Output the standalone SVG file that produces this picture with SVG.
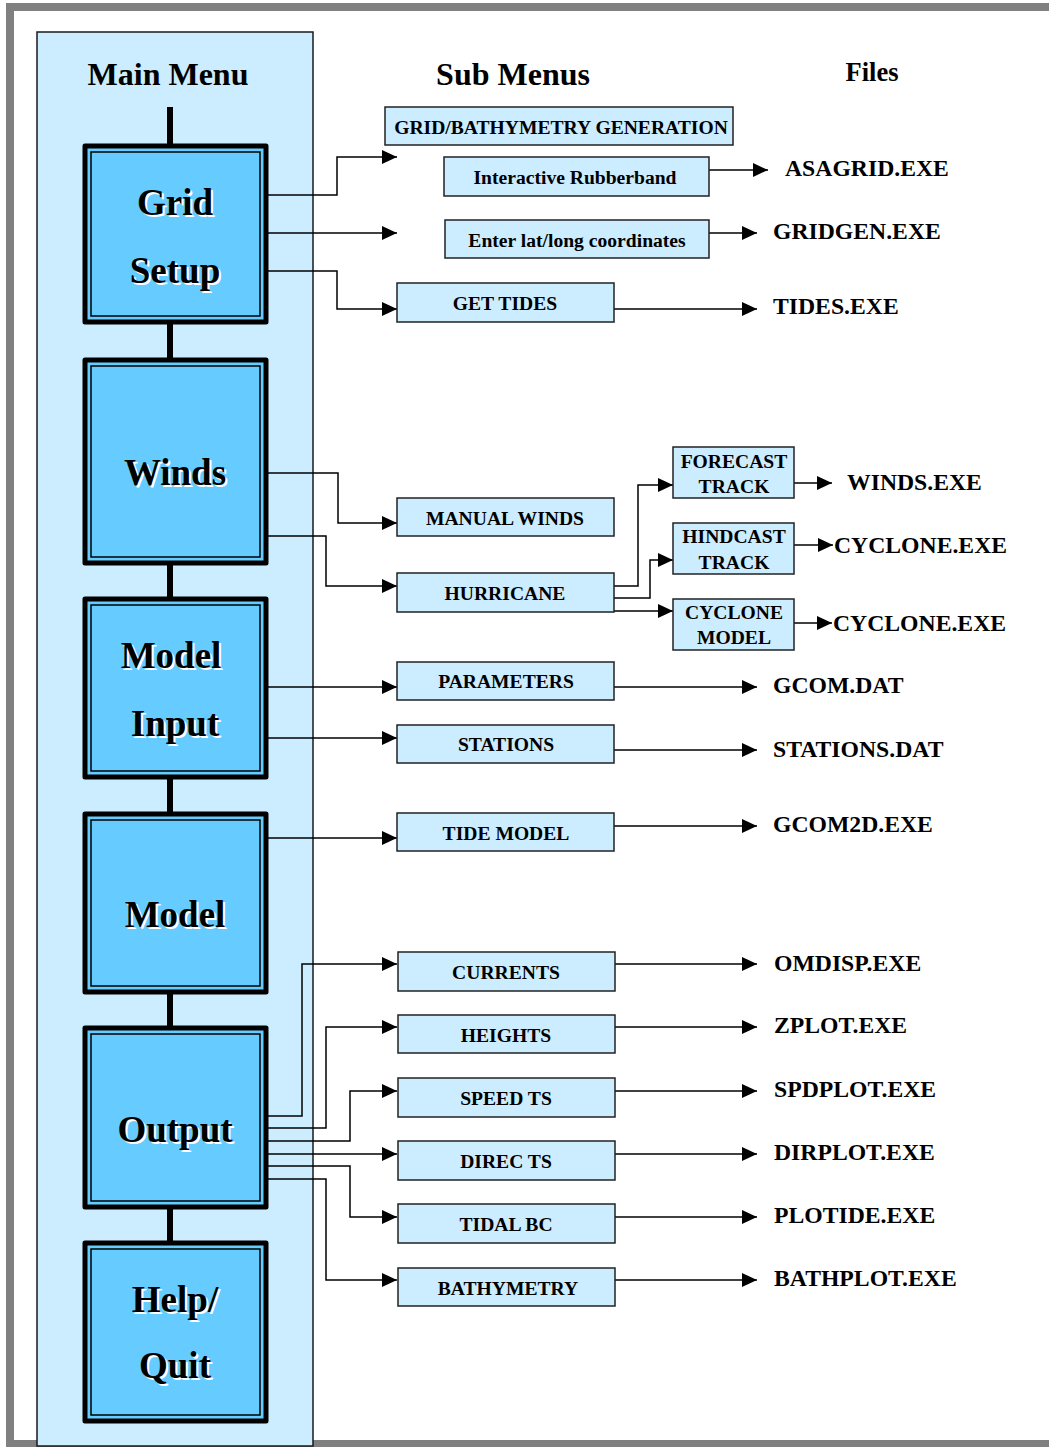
<svg xmlns="http://www.w3.org/2000/svg" width="1049" height="1447" viewBox="0 0 1049 1447">
<defs>
<style>
.frame{fill:#fff;stroke:#808080;stroke-width:8}
.panel{fill:#CCECFF;stroke:#1a1a1a;stroke-width:1.5}
.mo{fill:#66CCFF;stroke:#000;stroke-width:5;stroke-linejoin:round}
.mi{fill:none;stroke:#000;stroke-width:1.5}
.sub{fill:#CCECFF;stroke:#222;stroke-width:1.5}
.spine{stroke:#000;stroke-width:6;fill:none}
.ca{fill:none;stroke:#000;stroke-width:1.5;marker-end:url(#ah)}
text{font-family:"Liberation Serif","Times New Roman",serif;font-weight:bold;fill:#000}
.t{font-size:32px;text-anchor:middle}
.big{font-size:37px;text-anchor:middle}
.sh{fill:#fff}
.st{font-size:19.6px;text-anchor:middle}
.ft{font-size:23.7px}
</style>
<marker id="ah" markerUnits="userSpaceOnUse" markerWidth="16" markerHeight="14" refX="15" refY="7" orient="auto">
<path d="M0,0 L15,7 L0,14 z" fill="#000"/>
</marker>
</defs>
<rect class="frame" x="10" y="7" width="1050" height="1437"/>
<g id="panel">
<rect class="panel" x="37" y="32" width="276" height="1414"/>
<text class="t" x="168" y="85">Main Menu</text>
</g>
<text class="t" x="513" y="85">Sub Menus</text>
<text class="t" x="872" y="81" style="font-size:26.5px">Files</text>
<line class="spine" x1="170" y1="107" x2="170" y2="1241"/>
<g id="connectors">
<path class="ca" d="M267,195 H337 V157 H397"/>
<path class="ca" d="M267,233 H397"/>
<path class="ca" d="M267,271 H337 V309 H397"/>
<path class="ca" d="M709,170 H768"/>
<path class="ca" d="M709,233 H757"/>
<path class="ca" d="M614,309 H757"/>
<path class="ca" d="M267,473 H338 V523 H397"/>
<path class="ca" d="M267,536 H326 V586 H397"/>
<path class="ca" d="M614,586 H638 V485 H673"/>
<path class="ca" d="M614,598 H650 V560 H673"/>
<path class="ca" d="M614,611 H673"/>
<path class="ca" d="M794,483 H832"/>
<path class="ca" d="M794,545 H833"/>
<path class="ca" d="M794,623 H832"/>
<path class="ca" d="M267,687 H397"/>
<path class="ca" d="M267,738 H397"/>
<path class="ca" d="M614,687 H757"/>
<path class="ca" d="M614,750 H757"/>
<path class="ca" d="M267,838 H397"/>
<path class="ca" d="M614,826 H757"/>
<path class="ca" d="M267,1116 H302 V964 H397"/>
<path class="ca" d="M267,1128 H326 V1027 H397"/>
<path class="ca" d="M267,1141 H350 V1091 H397"/>
<path class="ca" d="M267,1154 H397"/>
<path class="ca" d="M267,1166 H350 V1217 H397"/>
<path class="ca" d="M267,1179 H326 V1280 H397"/>
<path class="ca" d="M614,964 H757"/>
<path class="ca" d="M614,1027 H757"/>
<path class="ca" d="M614,1091 H757"/>
<path class="ca" d="M614,1154 H757"/>
<path class="ca" d="M614,1217 H757"/>
<path class="ca" d="M614,1280 H757"/>
</g>
<g id="grid-setup">
<rect class="mo" x="85" y="146" width="181" height="176"/>
<rect class="mi" x="91" y="152" width="169" height="164"/>
<text class="big sh" x="177" y="217">Grid</text><text class="big" x="175" y="215">Grid</text>
<text class="big sh" x="177" y="285">Setup</text><text class="big" x="175" y="283">Setup</text>
</g>
<g id="winds">
<rect class="mo" x="85" y="360" width="181" height="203"/>
<rect class="mi" x="91" y="366" width="169" height="191"/>
<text class="big sh" x="177" y="487">Winds</text><text class="big" x="175" y="485">Winds</text>
</g>
<g id="model-input">
<rect class="mo" x="85" y="599" width="181" height="178"/>
<rect class="mi" x="91" y="605" width="169" height="166"/>
<text class="big sh" x="173" y="670">Model</text><text class="big" x="171" y="668">Model</text>
<text class="big sh" x="177" y="738">Input</text><text class="big" x="175" y="736">Input</text>
</g>
<g id="model">
<rect class="mo" x="85" y="814" width="181" height="178"/>
<rect class="mi" x="91" y="820" width="169" height="166"/>
<text class="big sh" x="177" y="929">Model</text><text class="big" x="175" y="927">Model</text>
</g>
<g id="output">
<rect class="mo" x="85" y="1028" width="181" height="179"/>
<rect class="mi" x="91" y="1034" width="169" height="167"/>
<text class="big sh" x="177" y="1144">Output</text><text class="big" x="175" y="1142">Output</text>
</g>
<g id="help-quit">
<rect class="mo" x="85" y="1243" width="181" height="178"/>
<rect class="mi" x="91" y="1249" width="169" height="166"/>
<text class="big sh" x="177" y="1314">Help/</text><text class="big" x="175" y="1312">Help/</text>
<text class="big sh" x="177" y="1380">Quit</text><text class="big" x="175" y="1378">Quit</text>
</g>
<g id="grid-bathymetry-generation"><rect class="sub" x="385" y="107" width="348" height="38"/><text class="st" x="561" y="134">GRID/BATHYMETRY GENERATION</text></g>
<g id="interactive-rubberband"><rect class="sub" x="444" y="157" width="265" height="39"/><text class="st" x="575" y="184">Interactive Rubberband</text></g>
<g id="enter-latlong"><rect class="sub" x="445" y="220" width="264" height="38"/><text class="st" x="577" y="247">Enter lat/long coordinates</text></g>
<g id="get-tides"><rect class="sub" x="397" y="283" width="217" height="39"/><text class="st" x="505" y="310">GET TIDES</text></g>
<g id="manual-winds"><rect class="sub" x="397" y="498" width="217" height="38"/><text class="st" x="505" y="525">MANUAL WINDS</text></g>
<g id="hurricane"><rect class="sub" x="397" y="573" width="217" height="39"/><text class="st" x="505" y="600">HURRICANE</text></g>
<g id="forecast-track"><rect class="sub" x="673" y="447" width="121" height="51"/><text class="st" x="734" y="468">FORECAST</text><text class="st" x="734" y="493">TRACK</text></g>
<g id="hindcast-track"><rect class="sub" x="673" y="523" width="121" height="51"/><text class="st" x="734" y="543">HINDCAST</text><text class="st" x="734" y="569">TRACK</text></g>
<g id="cyclone-model"><rect class="sub" x="673" y="599" width="121" height="51"/><text class="st" x="734" y="619">CYCLONE</text><text class="st" x="734" y="644">MODEL</text></g>
<g id="parameters"><rect class="sub" x="397" y="662" width="217" height="38"/><text class="st" x="506" y="688">PARAMETERS</text></g>
<g id="stations"><rect class="sub" x="397" y="725" width="217" height="38"/><text class="st" x="506" y="751">STATIONS</text></g>
<g id="tide-model"><rect class="sub" x="397" y="813" width="217" height="38"/><text class="st" x="506" y="840">TIDE MODEL</text></g>
<g id="currents"><rect class="sub" x="398" y="952" width="217" height="39"/><text class="st" x="506" y="979">CURRENTS</text></g>
<g id="heights"><rect class="sub" x="398" y="1015" width="217" height="38"/><text class="st" x="506" y="1042">HEIGHTS</text></g>
<g id="speed-ts"><rect class="sub" x="398" y="1078" width="217" height="39"/><text class="st" x="506" y="1105">SPEED TS</text></g>
<g id="direc-ts"><rect class="sub" x="398" y="1141" width="217" height="39"/><text class="st" x="506" y="1168">DIREC TS</text></g>
<g id="tidal-bc"><rect class="sub" x="398" y="1204" width="217" height="39"/><text class="st" x="506" y="1231">TIDAL BC</text></g>
<g id="bathymetry"><rect class="sub" x="398" y="1268" width="217" height="38"/><text class="st" x="508" y="1295">BATHYMETRY</text></g>
<g id="files">
<text class="ft" x="785" y="176">ASAGRID.EXE</text>
<text class="ft" x="773" y="239">GRIDGEN.EXE</text>
<text class="ft" x="773" y="314">TIDES.EXE</text>
<text class="ft" x="847" y="490">WINDS.EXE</text>
<text class="ft" x="834" y="553">CYCLONE.EXE</text>
<text class="ft" x="833" y="631">CYCLONE.EXE</text>
<text class="ft" x="773" y="693">GCOM.DAT</text>
<text class="ft" x="773" y="757">STATIONS.DAT</text>
<text class="ft" x="773" y="832">GCOM2D.EXE</text>
<text class="ft" x="774" y="971">OMDISP.EXE</text>
<text class="ft" x="774" y="1033">ZPLOT.EXE</text>
<text class="ft" x="774" y="1097">SPDPLOT.EXE</text>
<text class="ft" x="774" y="1160">DIRPLOT.EXE</text>
<text class="ft" x="774" y="1223">PLOTIDE.EXE</text>
<text class="ft" x="774" y="1286">BATHPLOT.EXE</text>
</g>
</svg>
